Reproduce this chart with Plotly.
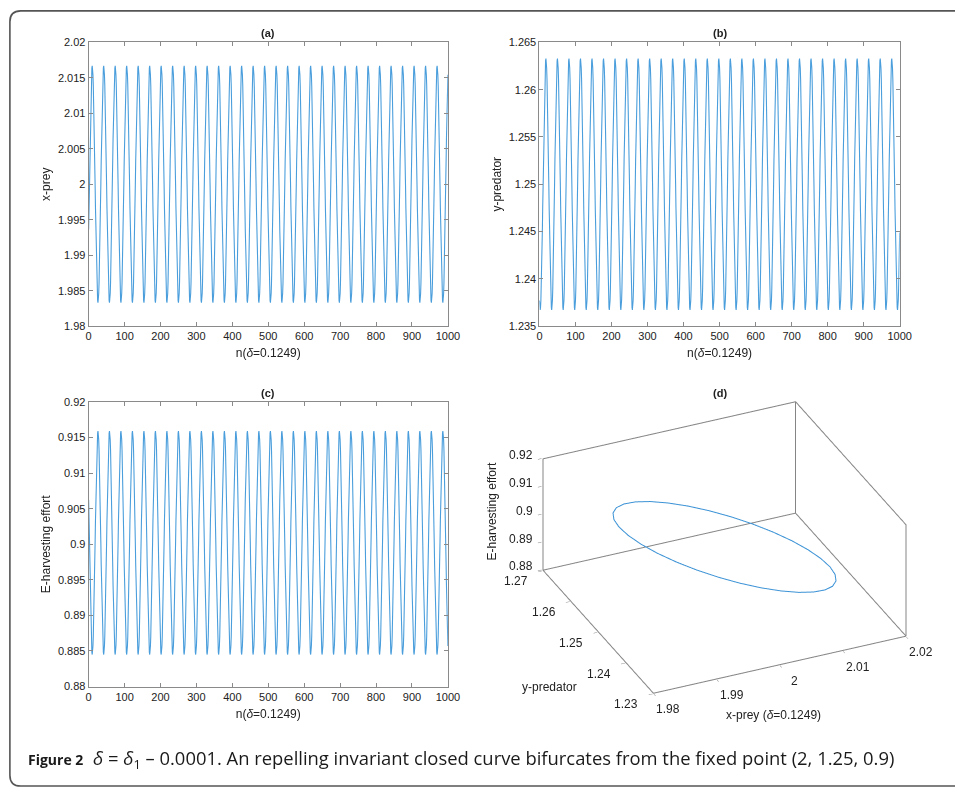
import numpy as np
import plotly.graph_objects as go

W, H = 955, 795

# ---------------- data ----------------
# one rotation of the orbit around the fixed point (2, 1.25, 0.9): ~32 iterates per turn
cycle_x = [1.99361, 1.99674, 2.00000, 2.00326, 2.00639, 2.00928, 2.01181, 2.01389,
           2.01543, 2.01638, 2.01670, 2.01638, 2.01543, 2.01389, 2.01181, 2.00928,
           2.00639, 2.00326, 2.00000, 1.99674, 1.99361, 1.99072, 1.98819, 1.98611,
           1.98457, 1.98362, 1.98330, 1.98362, 1.98457, 1.98611, 1.98819, 1.99072]
cycle_y = [1.23771, 1.23696, 1.23670, 1.23696, 1.23771, 1.23894, 1.24060, 1.24261,
           1.24491, 1.24741, 1.25000, 1.25259, 1.25509, 1.25739, 1.25940, 1.26106,
           1.26229, 1.26304, 1.26330, 1.26304, 1.26229, 1.26106, 1.25940, 1.25739,
           1.25509, 1.25259, 1.25000, 1.24741, 1.24491, 1.24261, 1.24060, 1.23894]
cycle_E = [0.90621, 0.90326, 0.90020, 0.89714, 0.89419, 0.89148, 0.88910, 0.88715,
           0.88570, 0.88480, 0.88450, 0.88480, 0.88570, 0.88715, 0.88910, 0.89148,
           0.89419, 0.89714, 0.90020, 0.90326, 0.90621, 0.90892, 0.91130, 0.91325,
           0.91470, 0.91560, 0.91590, 0.91560, 0.91470, 0.91325, 0.91130, 0.90892]
n_iter = 1000

n_ticks = [0, 100, 200, 300, 400, 500, 600, 700, 800, 900, 1000]
xa_ticks = [1.98, 1.985, 1.99, 1.995, 2.0, 2.005, 2.01, 2.015, 2.02]
xa_text = ["1.98", "1.985", "1.99", "1.995", "2", "2.005", "2.01", "2.015", "2.02"]
yb_ticks = [1.235, 1.24, 1.245, 1.25, 1.255, 1.26, 1.265]
yb_text = ["1.235", "1.24", "1.245", "1.25", "1.255", "1.26", "1.265"]
ec_ticks = [0.88, 0.885, 0.89, 0.895, 0.9, 0.905, 0.91, 0.915, 0.92]
ec_text = ["0.88", "0.885", "0.89", "0.895", "0.9", "0.905", "0.91", "0.915", "0.92"]
x3_ticks = [1.98, 1.99, 2.0, 2.01, 2.02]
x3_text = ["1.98", "1.99", "2", "2.01", "2.02"]
y3_ticks = [1.23, 1.24, 1.25, 1.26, 1.27]
y3_text = ["1.23", "1.24", "1.25", "1.26", "1.27"]
z3_ticks = [0.88, 0.89, 0.9, 0.91, 0.92]
z3_text = ["0.88", "0.89", "0.9", "0.91", "0.92"]

# orbit = the cycle repeated over the iterations
n = np.arange(n_iter + 1)
x_series = np.array([cycle_x[i % len(cycle_x)] for i in n])
y_series = np.array([cycle_y[i % len(cycle_y)] for i in n])
E_series = np.array([cycle_E[i % len(cycle_E)] for i in n])

# closed invariant curve (one turn of the orbit, closed)
curve_x = cycle_x + cycle_x[:1]
curve_y = cycle_y + cycle_y[:1]
curve_E = cycle_E + cycle_E[:1]

# ---------------- styling ----------------
LINE = "#4a9edc"
AX = "#8a8a8a"
TXT = "#222222"
FONT = "Liberation Sans, Arial, sans-serif"

fig = go.Figure()
fig.add_trace(go.Scatter(x=n, y=x_series, mode="lines", line=dict(color=LINE, width=1.1),
                         xaxis="x", yaxis="y", showlegend=False))
fig.add_trace(go.Scatter(x=n, y=y_series, mode="lines", line=dict(color=LINE, width=1.1),
                         xaxis="x2", yaxis="y2", showlegend=False))
fig.add_trace(go.Scatter(x=n, y=E_series, mode="lines", line=dict(color=LINE, width=1.1),
                         xaxis="x3", yaxis="y3", showlegend=False))

# 3D box frame (back walls + front floor edges) from the axis ranges
X0, X1 = x3_ticks[0], x3_ticks[-1]
Y0, Y1 = y3_ticks[0], y3_ticks[-1]
Z0, Z1 = z3_ticks[0], z3_ticks[-1]
bx = [X0, X0, X1, X1, X0, None, X1, X1, X1, X1, None, X0, X0, X1]
by = [Y1, Y1, Y1, Y1, Y1, None, Y1, Y0, Y0, Y1, None, Y1, Y0, Y0]
bz = [Z0, Z1, Z1, Z0, Z0, None, Z1, Z1, Z0, Z0, None, Z0, Z0, Z0]
fig.add_trace(go.Scatter3d(x=bx, y=by, z=bz, mode="lines", line=dict(color="#858585", width=2),
                           scene="scene", showlegend=False, hoverinfo="skip"))
fig.add_trace(go.Scatter3d(x=curve_x, y=curve_y, z=curve_E, mode="lines",
                           line=dict(color="#3b92d6", width=2), scene="scene", showlegend=False))


def ax2d(domain, anchor, rng, tickvals, ticktext=None, title=None, standoff=4):
    d = dict(domain=domain, anchor=anchor, range=rng, tickvals=tickvals,
             ticks="inside", ticklen=4, tickcolor=AX, tickwidth=1,
             showline=True, linecolor=AX, linewidth=1, mirror="ticks",
             showgrid=False, zeroline=False,
             tickfont=dict(family=FONT, size=11, color=TXT))
    if ticktext is not None:
        d["ticktext"] = ticktext
    if title is not None:
        d["title"] = dict(text=title, font=dict(family=FONT, size=12, color=TXT), standoff=standoff)
    return d


xa_dom = [87 / W, 452 / W]
xb_dom = [545 / W, 911 / W]
top_dom = [1 - 325 / H, 1 - 37 / H]
bot_dom = [1 - 691 / H, 1 - 402 / H]
ntitle = "n(<i>δ</i>=0.1249)"

fig.update_layout(
    xaxis=ax2d(xa_dom, "y", [0, 1000], n_ticks, title=ntitle, standoff=7),
    yaxis=ax2d(top_dom, "x", [1.98, 2.02], xa_ticks, xa_text, title="x-prey"),
    xaxis2=ax2d(xb_dom, "y2", [0, 1000], n_ticks, title=ntitle, standoff=7),
    yaxis2=ax2d(top_dom, "x2", [1.235, 1.265], yb_ticks, yb_text, title="y-predator"),
    xaxis3=ax2d(xa_dom, "y3", [0, 1000], n_ticks, title=ntitle, standoff=7),
    yaxis3=ax2d(bot_dom, "x3", [0.88, 0.92], ec_ticks, ec_text, title="E-harvesting effort"),
)


def ax3d(lo, hi, tv):
    pad = (hi - lo) * 0.004  # keep the frame lines just inside the clip box
    return dict(range=[lo - pad, hi + pad], tickvals=tv, showticklabels=False, showgrid=False,
                zeroline=False, showbackground=False, showline=False, showspikes=False,
                ticks="outside", ticklen=4, tickcolor="#808080", title=dict(text=""))


# 3D tick labels attached to the data positions on the box edges
TF = dict(family=FONT, size=12, color=TXT)
scene_ann = []
for v, t in zip(z3_ticks, z3_text):
    scene_ann.append(dict(x=X0, y=Y1, z=v, text=t, showarrow=False, xanchor="right",
                          yanchor="middle", xshift=-8, yshift=4, font=TF))
for v, t in zip(y3_ticks, y3_text):
    scene_ann.append(dict(x=X0, y=v, z=Z0, text=t, showarrow=False, xanchor="right",
                          yanchor="middle", xshift=-13, yshift=-11, font=TF))
for v, t in zip(x3_ticks, x3_text):
    scene_ann.append(dict(x=v, y=Y0, z=Z0, text=t, showarrow=False, xanchor="center",
                          yanchor="middle", xshift=15, yshift=-16, font=TF))

K = 1.52
EYE = 5.0
fig.update_layout(
    scene=dict(
        domain=dict(x=[511 / W, 1.0], y=[1 - 725 / H, 1 - 375 / H]),
        xaxis=ax3d(X0, X1, x3_ticks),
        yaxis=ax3d(Y0, Y1, y3_ticks),
        zaxis=ax3d(Z0, Z1, z3_ticks),
        aspectmode="manual",
        aspectratio=dict(x=1.065 * K, y=1.034 * K, z=0.495 * K),
        camera=dict(eye=dict(x=-0.354 * EYE, y=-0.786 * EYE, z=0.50 * EYE),
                    up=dict(x=0, y=0, z=1), center=dict(x=0, y=0, z=0),
                    projection=dict(type="orthographic")),
        bgcolor="white",
        annotations=scene_ann,
    )
)

ann = []
for lbl, xd, yd in [("(a)", "x domain", "y domain"), ("(b)", "x2 domain", "y2 domain"),
                    ("(c)", "x3 domain", "y3 domain")]:
    ann.append(dict(text=f"<b>{lbl}</b>", xref=xd, yref=yd, x=0.5, y=1, xanchor="center",
                    yanchor="bottom", yshift=1, showarrow=False,
                    font=dict(family=FONT, size=11, color=TXT)))


def pann(text, px, py, **kw):
    d = dict(text=text, xref="paper", yref="paper", x=px / W, y=1 - py / H,
             xanchor="center", yanchor="middle", showarrow=False,
             font=dict(family=FONT, size=12, color=TXT))
    d.update(kw)
    return d


ann.append(pann("<b>(d)</b>", 728, 393, font=dict(family=FONT, size=11, color=TXT)))
ann.append(pann("x-prey (<i>δ</i>=0.1249)", 783, 720))
ann.append(pann("y-predator", 555, 691))
ann.append(pann("E-harvesting effort", 497, 513, textangle=-90))
ann.append(dict(text="<span style='font-size:14px'><b>Figure 2</b></span>  <i>δ</i> = <i>δ</i><sub>1</sub> – 0.0001. "
                     "An repelling invariant closed curve bifurcates from the fixed point (2, 1.25, 0.9)",
                xref="paper", yref="paper", x=23 / W, y=1 - 765 / H, xanchor="left",
                yanchor="middle", showarrow=False,
                font=dict(family="Open Sans, Noto Sans, sans-serif", size=18.4, color="#1a1a1a")))

L, T, B, R = 7 / W, 1 - 5 / H, 1 - 792 / H, 1.02
rx, ry = 11 / W, 11 / H
path = (f"M {R},{T} L {L + rx},{T} Q {L},{T} {L},{T - ry} L {L},{B + ry} "
        f"Q {L},{B} {L + rx},{B} L {R},{B}")

fig.update_layout(
    width=W, height=H, margin=dict(l=0, r=0, t=0, b=0),
    paper_bgcolor="white", plot_bgcolor="white",
    annotations=ann,
    shapes=[dict(type="path", path=path, xref="paper", yref="paper",
                 line=dict(color="#555555", width=1.6))],
    showlegend=False,
)

fig.write_html("out.html")
